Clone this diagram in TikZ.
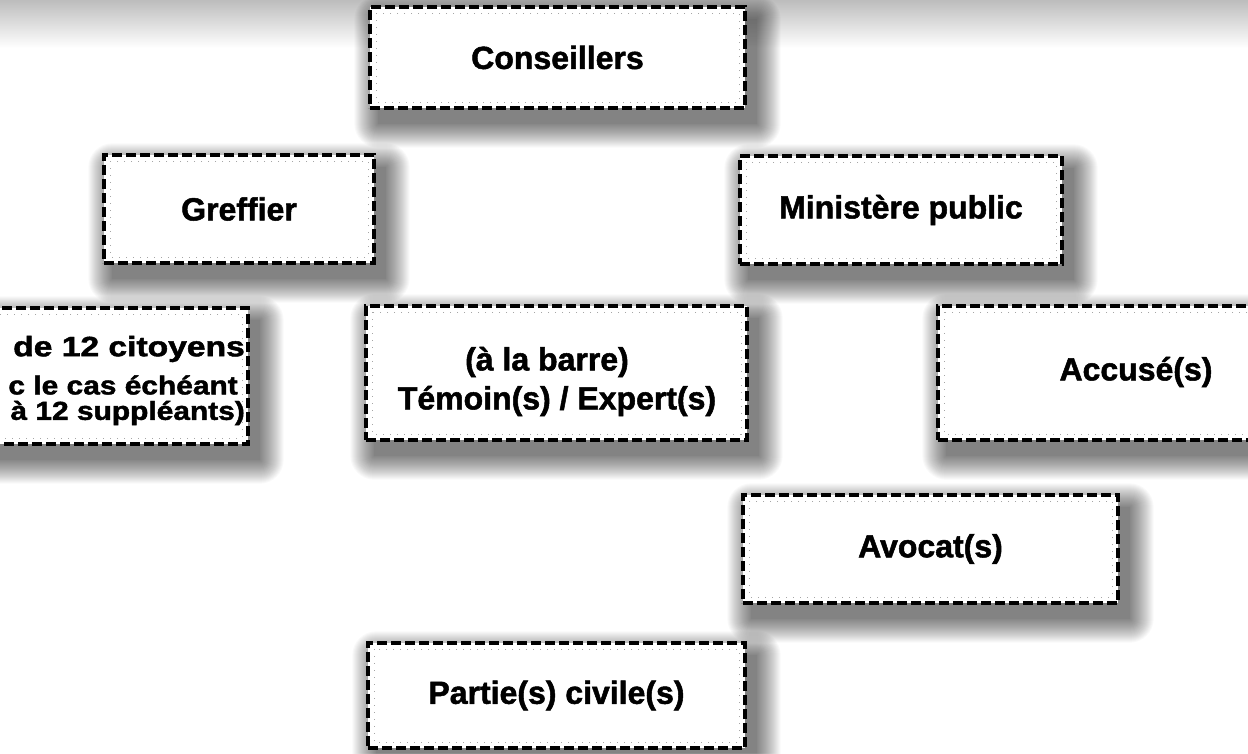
\documentclass[tikz,border=0pt]{standalone}
\usepackage{fontspec}
\usepackage{graphicx}
\setmainfont{Liberation Sans}[BoldFeatures={FakeBold=1.6}]
\usetikzlibrary{backgrounds}
\pgfdeclarelayer{bglayer}
\pgfdeclarelayer{shadowlayer}
\pgfsetlayers{bglayer,shadowlayer,main}
\newcommand\boxshadow[1]{%
  \begin{pgfonlayer}{shadowlayer}
    \foreach \r in {0,1,...,24}{%
      \fill[black,opacity=0.022,rounded corners=\r pt] ([shift={(10-\r,14-\r)}]#1.north west) rectangle ([shift={(10+\r,14+\r)}]#1.south east);
    }
  \end{pgfonlayer}}
\tikzset{
  box/.style={draw=black, line width=3.4pt, dash pattern=on 10pt off 4pt, fill=white,
    inner sep=0pt, align=center, font=\bfseries\fontsize{32}{39}\selectfont,
    path picture={\draw[black!35, line width=0.9pt, dash pattern=on 1pt off 6pt]
      ([shift={(6pt,-6pt)}]path picture bounding box.north west) rectangle
      ([shift={(-6pt,6pt)}]path picture bounding box.south east);}},
  lbl/.style={inner sep=0pt, font=\bfseries\fontsize{32}{39}\selectfont, align=center},
}
\begin{document}
\begin{tikzpicture}[x=1pt,y=-1pt]
\useasboundingbox (0,0) rectangle (1248,753);
\begin{pgfonlayer}{bglayer}
  \fill[white] (0,0) rectangle (1248,753);
  \shade[top color=black!26, bottom color=white] (0,0) rectangle (1248,48);
\end{pgfonlayer}

\node[box, minimum width=375pt, minimum height=101pt] (cons) at (557.5,57.5) {Conseillers};
\node[box, minimum width=270pt, minimum height=108pt] (greff) at (239,209) {Greffier};
\node[box, minimum width=322pt, minimum height=108pt] (minp) at (901,210) {Ministère public};
\node[box, minimum width=300pt, minimum height=136pt] (jury) at (98,376) {};
\node[box, minimum width=381pt, minimum height=134pt] (tem) at (556.5,373) {};
\node[box, minimum width=360pt, minimum height=134pt] (acc) at (1118,373) {};
\node[box, minimum width=375pt, minimum height=108pt] (avo) at (930.5,549) {Avocat(s)};
\node[box, minimum width=377pt, minimum height=105pt] (part) at (556.5,695.5) {Partie(s) civile(s)};

\boxshadow{cons}
\boxshadow{greff}
\boxshadow{minp}
\boxshadow{jury}
\boxshadow{tem}
\boxshadow{acc}
\boxshadow{avo}
\boxshadow{part}

\node[lbl, anchor=east] (j1) at (245,349) {\fontsize{28}{30}\selectfont\scalebox{1.2}[1]{de 12 citoyens}};
\node[lbl, anchor=east] (j2) at (238,385) {\fontsize{26}{28}\selectfont\scalebox{1.15}[1]{c le cas échéant}};
\node[lbl, anchor=east] (j3) at (245,413) {\fontsize{26}{28}\selectfont\scalebox{1.15}[1]{à 12 suppléants)}};
\node[lbl] (t1) at (547,362) {(à la barre)};
\node[lbl] (t2) at (557,401) {Témoin(s) / Expert(s)};
\node[lbl] (a1) at (1136,372) {Accusé(s)};
\end{tikzpicture}
\end{document}
